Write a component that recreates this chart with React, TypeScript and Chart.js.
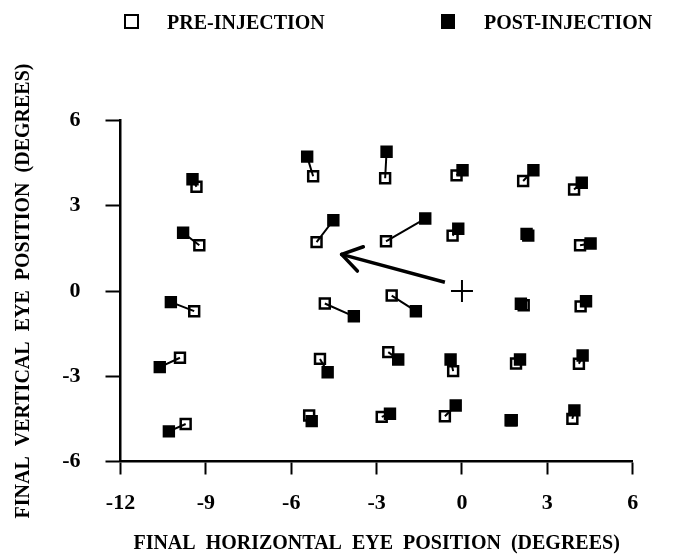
import React, { useEffect, useRef } from "react";
import { Chart, registerables } from "chart.js";

Chart.register(...registerables);

// Axis ticks
const xTicks = [-12, -9, -6, -3, 0, 3, 6];
const yTicks = [-6, -3, 0, 3, 6];

// Pre-injection final eye positions (degrees)
const preX = [
  -9.33, -5.23, -2.7, -0.19, 2.15, 3.94,
  -9.23, -5.11, -2.67, -0.33, 2.33, 4.15,
  -9.41, -4.82, -2.47, 2.17, 4.17,
  -9.91, -4.99, -2.59, -0.31, 1.9, 4.11,
  -9.71, -5.37, -2.82, -0.6, 1.75, 3.88,
];
const preY = [
  3.67, 4.04, 3.97, 4.07, 3.87, 3.57,
  1.61, 1.72, 1.75, 1.95, 1.95, 1.61,
  -0.71, -0.44, -0.16, -0.5, -0.54,
  -2.35, -2.39, -2.15, -2.82, -2.55, -2.56,
  -4.68, -4.38, -4.43, -4.41, -4.55, -4.5,
];

// Post-injection final eye positions (degrees)
const postX = [
  -9.47, -5.44, -2.65, 0.02, 2.51, 4.21,
  -9.8, -4.52, -1.29, -0.13, 2.27, 4.52,
  -10.23, -3.8, -1.62, 2.07, 4.36,
  -10.62, -4.72, -2.24, -0.4, 2.04, 4.24,
  -10.3, -5.28, -2.53, -0.22, 1.71, 3.95,
];
const postY = [
  3.93, 4.73, 4.9, 4.25, 4.25, 3.81,
  2.05, 2.49, 2.55, 2.19, 2.01, 1.67,
  -0.39, -0.89, -0.71, -0.45, -0.36,
  -2.68, -2.86, -2.41, -2.41, -2.41, -2.27,
  -4.94, -4.58, -4.32, -4.03, -4.55, -4.2,
];

// Fixation cross and arrow (tail -> tip), in degrees
const fixationX = [0];
const fixationY = [0];
const arrowX = [-0.6, -4.23];
const arrowY = [0.31, 1.29];

const FONT = "'Liberation Serif', 'Times New Roman', serif";

const arrowHead = {
  id: "arrowHead",
  afterDatasetsDraw(chart: any) {
    const meta = chart.getDatasetMeta(3);
    if (!meta || meta.data.length < 2) return;
    const a = meta.data[0];
    const b = meta.data[1];
    const ang = Math.atan2(a.y - b.y, a.x - b.x);
    const ctx = chart.ctx;
    ctx.save();
    ctx.strokeStyle = "#000";
    ctx.lineWidth = 3.5;
    ctx.lineCap = "round";
    for (const d of [-0.6, 0.55]) {
      ctx.beginPath();
      ctx.moveTo(b.x, b.y);
      ctx.lineTo(b.x + 23 * Math.cos(ang + d), b.y + 23 * Math.sin(ang + d));
      ctx.stroke();
    }
    ctx.restore();
  },
};

export default function App() {
  const ref = useRef<HTMLCanvasElement | null>(null);

  useEffect(() => {
    if (!ref.current) return;
    const pre = preX.map((x, i) => ({ x, y: preY[i] }));
    const post = postX.map((x, i) => ({ x, y: postY[i] }));
    const connectors: any[] = [];
    preX.forEach((x, i) => {
      connectors.push({ x, y: preY[i] });
      connectors.push({ x: postX[i], y: postY[i] });
      connectors.push({ x: postX[i], y: null });
    });
    const arrow = arrowX.map((x, i) => ({ x, y: arrowY[i] }));
    const fixation = fixationX.map((x, i) => ({ x, y: fixationY[i] }));

    const tickFont = { family: FONT, size: 22, weight: "bold" as const };
    const titleFont = { family: FONT, size: 20, weight: "bold" as const, lineHeight: 1 };

    const chart = new Chart(ref.current, {
      type: "scatter",
      data: {
        datasets: [
          {
            label: "POST-INJECTION",
            data: post,
            pointStyle: "rect",
            pointRadius: 7,
            pointHoverRadius: 7,
            backgroundColor: "#000",
            borderColor: "#000",
            borderWidth: 2.5,
            order: 0,
          },
          {
            label: "connectors",
            data: connectors,
            showLine: true,
            spanGaps: false,
            borderColor: "#000",
            borderWidth: 2,
            pointRadius: 0,
            pointHoverRadius: 0,
            order: 1,
          },
          {
            label: "PRE-INJECTION",
            data: pre,
            pointStyle: "rect",
            pointRadius: 7,
            pointHoverRadius: 7,
            backgroundColor: "#fff",
            borderColor: "#000",
            borderWidth: 2.5,
            order: 2,
          },
          {
            label: "arrow",
            data: arrow,
            showLine: true,
            borderColor: "#000",
            borderWidth: 3.5,
            pointRadius: 0,
            pointHoverRadius: 0,
            order: 3,
          },
          {
            label: "fixation",
            data: fixation,
            pointStyle: "cross",
            pointRadius: 11,
            pointHoverRadius: 11,
            borderColor: "#000",
            borderWidth: 2,
            order: 4,
          },
        ] as any,
      },
      options: {
        animation: false,
        responsive: false,
        devicePixelRatio: 1,
        events: [],
        layout: { padding: { top: 120.5, right: 42.3, bottom: 0, left: 0 } },
        plugins: {
          legend: { display: false },
          tooltip: { enabled: false },
        },
        scales: {
          x: {
            type: "linear",
            min: -12,
            max: 6,
            afterBuildTicks: (s: any) => {
              s.ticks = xTicks.map((v) => ({ value: v }));
            },
            afterFit: (s: any) => {
              s.height = 92.5;
            },
            grid: {
              display: true,
              drawOnChartArea: false,
              drawTicks: true,
              tickLength: 13,
              tickWidth: 2,
              tickColor: "#000",
              color: "#000",
            },
            border: { display: true, color: "#000", width: 2.5 },
            ticks: { color: "#000", font: tickFont, padding: 16 },
            title: {
              display: true,
              text: "FINAL  HORIZONTAL  EYE  POSITION  (DEGREES)",
              color: "#000",
              font: titleFont,
              padding: { top: 0, bottom: 0 },
            },
          },
          y: {
            type: "linear",
            min: -6,
            max: 6,
            afterBuildTicks: (s: any) => {
              s.ticks = yTicks.map((v) => ({ value: v }));
            },
            afterFit: (s: any) => {
              s.width = 120.5;
            },
            grid: {
              display: true,
              drawOnChartArea: false,
              drawTicks: true,
              tickLength: 15,
              tickWidth: 2,
              tickColor: "#000",
              color: "#000",
            },
            border: { display: true, color: "#000", width: 2.5 },
            ticks: { color: "#000", font: tickFont, padding: 25 },
            title: {
              display: true,
              text: "FINAL  VERTICAL  EYE  POSITION  (DEGREES)",
              color: "#000",
              font: titleFont,
              padding: { top: 14, bottom: 0 },
            },
          },
        },
      } as any,
      plugins: [arrowHead],
    });
    return () => chart.destroy();
  }, []);

  const legendText: React.CSSProperties = {
    position: "absolute",
    top: 12,
    fontFamily: FONT,
    fontWeight: "bold",
    fontSize: 20,
    lineHeight: "20px",
    color: "#000",
    whiteSpace: "nowrap",
  };

  return (
    <div
      style={{
        position: "fixed",
        left: 0,
        top: 0,
        width: 675,
        height: 554,
        background: "#fff",
      }}
    >
      <canvas ref={ref} width={675} height={554} style={{ display: "block" }} />
      <div
        style={{
          position: "absolute",
          left: 124,
          top: 14,
          width: 15,
          height: 15,
          border: "2.5px solid #000",
          boxSizing: "border-box",
          background: "#fff",
        }}
      />
      <span style={{ ...legendText, left: 167 }}>PRE-INJECTION</span>
      <div
        style={{
          position: "absolute",
          left: 441,
          top: 14,
          width: 14,
          height: 15,
          background: "#000",
        }}
      />
      <span style={{ ...legendText, left: 484 }}>POST-INJECTION</span>
    </div>
  );
}
